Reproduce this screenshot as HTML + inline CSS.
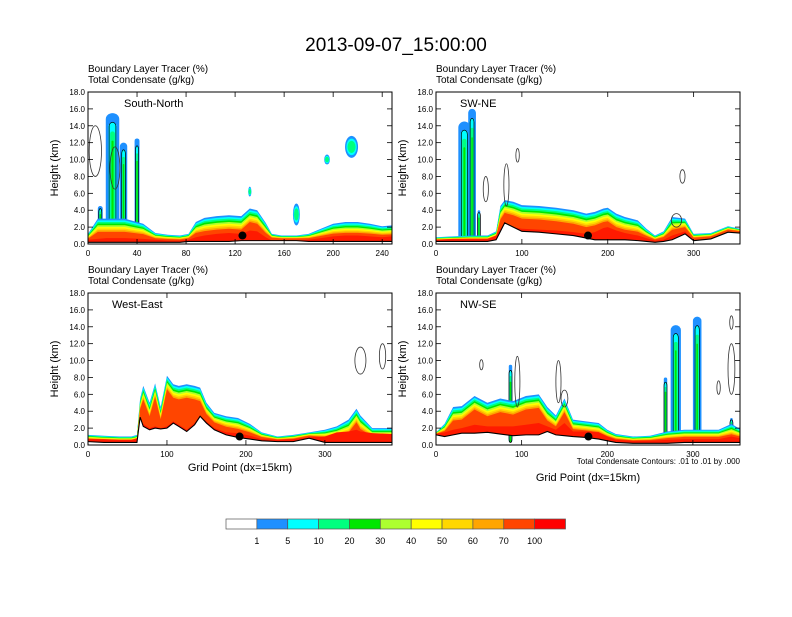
<!DOCTYPE html>
<html><head><meta charset="utf-8">
<style>
body{margin:0;background:#fff;}
svg text{font-family:"Liberation Sans",sans-serif;fill:#000;}
</style></head>
<body>
<svg id="chart" width="792" height="612" xmlns="http://www.w3.org/2000/svg">
<rect x="0" y="0" width="792" height="612" fill="#fff"/>
<text x="396" y="51" font-size="19" text-anchor="middle">2013-09-07_15:00:00</text>
</svg>
<script>
// ---------- data ----------
const levelColors = ["#1e90ff","#00ffff","#00ff7f","#00e600","#adff2f","#ffff00","#ffd700","#ffa500","#ff4500","#ff0000"];
const colorbarLabels = ["1","5","10","20","30","40","50","60","70","100"];
const yTicks = [0,2,4,6,8,10,12,14,16,18];

const p1X = [0,8,15,30,45,55,65,75,82,88,95,105,115,125,132,138,145,150,158,170,180,190,200,210,220,230,240,248];
const p1Blue = [1.2,3,3,3,2.4,1.3,1.1,1.0,1.2,2.6,3.1,3.3,3.4,3.3,4.2,4.0,2.5,1.2,1.0,1.0,1.2,1.8,2.4,2.6,2.6,2.4,2.1,2.2];
const p1Red = [0.5,0.6,0.7,0.7,0.6,0.5,0.4,0.4,0.5,0.8,1.0,1.2,1.3,1.2,1.6,1.5,0.8,0.4,0.4,0.4,0.5,0.7,0.9,1.0,1.0,0.9,0.8,0.9];
const p1Terrain = [0.2,0.2,0.2,0.2,0.2,0.2,0.2,0.2,0.3,0.3,0.3,0.3,0.3,0.4,0.4,0.4,0.4,0.4,0.4,0.4,0.3,0.3,0.3,0.3,0.3,0.3,0.3,0.3];
const p1TowerX = [20,29,40,10];
const p1TowerTop = [15.5,12,12.5,4.5];
const p1TowerW = [11,6,4,4];
const p1BlobX = [215,195,170,132];
const p1BlobY = [11.5,10,3.5,6.2];
const p1BlobR = [9,3,4,1];
const p1ContX = [6,22];
const p1ContY = [11,9];
const p1ContRx = [5,4];
const p1ContRy = [3,2.5];

const p2X = [0,20,40,60,70,75,80,90,100,120,140,160,175,185,195,200,210,220,235,245,255,265,275,290,300,320,340,354];
const p2Blue = [0.8,0.9,1.0,1.0,1.5,4.5,5.2,5.0,4.6,4.5,4.3,4.0,3.6,3.8,4.2,4.3,3.6,3.2,2.8,1.8,1.0,1.5,3.2,3.0,1.2,1.3,2.1,1.8];
const p2Red = [0.5,0.6,0.6,0.6,1.0,1.8,2.6,2.0,1.8,1.7,1.6,1.4,1.2,1.4,1.9,2.0,1.6,1.3,1.0,0.7,0.4,0.5,1.0,1.5,0.5,0.6,1.1,1.0];
const p2Terrain = [0.3,0.3,0.3,0.3,0.5,1.5,2.5,2.0,1.5,1.4,1.2,1.0,0.7,0.5,0.5,0.5,0.5,0.5,0.4,0.3,0.2,0.3,0.5,1.2,0.4,0.6,1.4,1.3];
const p2TowerX = [33,42,50];
const p2TowerTop = [14.5,16,4];
const p2TowerW = [14,9,3];
const p2BlobX = [];
const p2BlobY = [];
const p2BlobR = [];
const p2ContX = [95,58,82,287,280];
const p2ContY = [10.5,6.5,7,8,2.8];
const p2ContRx = [2,3,3,3,6];
const p2ContRy = [0.8,1.5,2.5,0.8,0.8];

const p3X = [0,20,40,55,62,66,70,78,85,92,100,108,115,125,135,142,150,160,175,190,205,220,240,260,280,300,315,330,340,345,360,385];
const p3Blue = [1.2,1.1,1.0,1.0,1.2,5.5,7.0,5.0,7.3,4.5,8.2,7.2,7.0,7.2,7.0,6.8,5.0,3.8,3.4,3.2,2.5,1.5,1.0,1.2,1.5,1.8,2.2,3.0,4.3,3.5,2.0,2.0];
const p3Red = [0.7,0.7,0.6,0.6,0.8,3.2,2.5,2.0,2.2,2.0,2.2,2.8,2.4,1.8,2.6,3.5,2.8,2.0,1.5,1.4,1.1,0.7,0.6,0.7,0.9,1.0,1.5,1.6,1.8,1.6,1.4,1.3];
const p3Terrain = [0.4,0.3,0.3,0.3,0.3,3.3,2.2,1.8,2.0,1.9,2.0,2.6,2.2,1.6,2.4,3.4,2.6,1.8,1.2,0.9,0.7,0.5,0.4,0.4,0.8,0.3,0.3,0.3,0.3,0.3,0.3,0.3];
const p3TowerX = [];
const p3TowerTop = [];
const p3TowerW = [];
const p3BlobX = [];
const p3BlobY = [];
const p3BlobR = [];
const p3ContX = [345,373];
const p3ContY = [10,10.5];
const p3ContRx = [7,4];
const p3ContRy = [1.6,1.5];

const p4X = [0,10,20,30,45,60,75,90,105,120,130,140,150,160,175,190,200,210,230,250,270,290,310,330,345,355];
const p4Blue = [1.5,2.5,4.5,4.6,5.8,5.0,5.5,5.2,5.8,6.0,4.5,3.5,5.5,3.0,2.8,2.6,1.8,1.3,1.0,1.1,1.6,1.8,1.8,1.8,2.5,1.9];
const p4Red = [1.3,1.5,1.8,2.0,2.4,2.2,2.2,2.2,2.4,2.6,2.2,1.8,2.6,1.6,1.6,1.5,1.0,0.6,0.5,0.5,0.6,0.7,0.7,0.7,1.0,0.8];
const p4Terrain = [1.2,1.0,1.2,1.4,1.4,1.5,1.3,1.1,1.2,1.2,1.6,1.2,1.1,1.0,0.9,0.7,0.5,0.3,0.2,0.2,0.2,0.3,0.3,0.3,0.3,0.3];
const p4TowerX = [268,280,305,87,345];
const p4TowerTop = [8,14.2,15.2,9.5,3.2];
const p4TowerW = [4,12,10,4,3];
const p4BlobX = [];
const p4BlobY = [];
const p4BlobR = [];
const p4ContX = [53,95,143,150,345,345,330];
const p4ContY = [9.5,7.5,7.5,5.5,14.5,9,6.8];
const p4ContRx = [2,3,3,4,2,4,2];
const p4ContRy = [0.6,3,2.5,1,0.8,3,0.8];

const panels = [
 {name:"South-North",x0:88,y0:92,w:304,h:152,xmax:248,xt:[0,40,80,120,160,200,240],X:p1X,B:p1Blue,R:p1Red,T:p1Terrain,tx:p1TowerX,tt:p1TowerTop,tw:p1TowerW,bx:p1BlobX,by:p1BlobY,br:p1BlobR,cx:p1ContX,cy:p1ContY,crx:p1ContRx,cry:p1ContRy,dot:126},
 {name:"SW-NE",x0:436,y0:92,w:304,h:152,xmax:354,xt:[0,100,200,300],X:p2X,B:p2Blue,R:p2Red,T:p2Terrain,tx:p2TowerX,tt:p2TowerTop,tw:p2TowerW,bx:p2BlobX,by:p2BlobY,br:p2BlobR,cx:p2ContX,cy:p2ContY,crx:p2ContRx,cry:p2ContRy,dot:177},
 {name:"West-East",x0:88,y0:293,w:304,h:152,xmax:385,xt:[0,100,200,300],X:p3X,B:p3Blue,R:p3Red,T:p3Terrain,tx:p3TowerX,tt:p3TowerTop,tw:p3TowerW,bx:p3BlobX,by:p3BlobY,br:p3BlobR,cx:p3ContX,cy:p3ContY,crx:p3ContRx,cry:p3ContRy,dot:192},
 {name:"NW-SE",x0:436,y0:293,w:304,h:152,xmax:355,xt:[0,100,200,300],X:p4X,B:p4Blue,R:p4Red,T:p4Terrain,tx:p4TowerX,tt:p4TowerTop,tw:p4TowerW,bx:p4BlobX,by:p4BlobY,br:p4BlobR,cx:p4ContX,cy:p4ContY,crx:p4ContRx,cry:p4ContRy,dot:178}
];

const NS="http://www.w3.org/2000/svg";
const svg=document.getElementById("chart");
function mk(tag,attrs,parent){const e=document.createElementNS(NS,tag);for(const k in attrs)e.setAttribute(k,attrs[k]);(parent||svg).appendChild(e);return e;}

panels.forEach((p,pi)=>{
  const sx=v=>p.x0+v/p.xmax*p.w;
  const sy=v=>p.y0+p.h-v/18*p.h;
  const slug=p.name.toLowerCase();
  const g=mk("g",{});
  
  
  const clipId="clip"+pi;
  const cp=mk("clipPath",{id:clipId},g);
  mk("rect",{x:p.x0,y:p.y0,width:p.w,height:p.h},cp);
  const plot=mk("g",{"clip-path":"url(#"+clipId+")"},g);
  // towers
  p.tx.forEach((x,i)=>{
    const tc=["#1e90ff","#00ffff","#00ff7f","#00e600"];
    tc.forEach((c,k)=>{
      const s=[1,0.6,0.35,0.15][k];
      const w=Math.max(1.5,(sx(p.tw[i]*s)-sx(0)));
      const top=p.tt[i]*(1-k*0.07);
      const r=mk("rect",{x:sx(x)-w/2,y:sy(top),width:w,height:sy(0.3)-sy(top),rx:w/2,ry:Math.min(w/2,6),fill:c},plot);
      
      
    });
    const cw=Math.max(3,(sx(p.tw[i]*0.5)-sx(0)));
    const cl=mk("rect",{x:sx(x)-cw/2,y:sy(p.tt[i]*0.93),width:cw,height:sy(0.3)-sy(p.tt[i]*0.93),rx:cw/2,ry:4,fill:"none",stroke:"#000","stroke-width":0.7},plot);
    
    
  });
  // blobs
  p.bx.forEach((x,i)=>{
    [["#1e90ff",1],["#00ffff",0.75],["#00ff7f",0.55]].forEach(([c,s])=>{
      const e=mk("ellipse",{cx:sx(x),cy:sy(p.by[i]),rx:(sx(p.br[i])-sx(0))*s*0.5+1,ry:(p.br[i]>3?11:5)*s,fill:c},plot);
      
      
    });
  });
  // BL bands
  const cols=["#1e90ff","#00ffff","#00ff7f","#00e600","#adff2f","#ffff00","#ffd700","#ffa500","#ff4500"];
  cols.forEach((c,li)=>{
    let pts=[];
    p.X.forEach((x,i)=>{const d=Math.min(0.2,(p.B[i]-p.T[i])*0.07);pts.push(sx(x)+","+sy(Math.max(p.T[i],p.B[i]-li*d)));});
    for(let i=p.X.length-1;i>=0;i--)pts.push(sx(p.X[i])+","+sy(p.T[i]));
    const a=mk("polygon",{points:pts.join(" "),fill:c},plot);
    
    
  });
  // red core
  let rp=[];
  p.X.forEach((x,i)=>rp.push(sx(x)+","+sy(Math.max(p.T[i],Math.min(p.R[i],p.B[i])))));
  for(let i=p.X.length-1;i>=0;i--)rp.push(sx(p.X[i])+","+sy(p.T[i]));
  const rc=mk("polygon",{points:rp.join(" "),fill:"#ff1a00"},plot);
  
  
  // contours
  p.cx.forEach((x,i)=>{
    const e=mk("ellipse",{cx:sx(x),cy:sy(p.cy[i]),rx:sx(p.crx[i])-sx(0),ry:sy(0)-sy(p.cry[i]),fill:"none",stroke:"#333","stroke-width":0.8},plot);
    
    
  });
  // terrain line
  let tl=p.X.map((x,i)=>sx(x)+","+sy(p.T[i])).join(" ");
  const tline=mk("polyline",{points:tl,fill:"none",stroke:"#000","stroke-width":1.1},plot);
  
  
  const dot=mk("circle",{cx:sx(p.dot),cy:sy(1.0),r:4,fill:"#000"},plot);
  
  
  const fr=mk("rect",{x:p.x0,y:p.y0,width:p.w,height:p.h,fill:"none",stroke:"#000","stroke-width":1},g);
  
  
  yTicks.forEach(v=>{
    const y=sy(v);
    mk("line",{x1:p.x0,x2:p.x0+5,y1:y,y2:y,stroke:"#000","stroke-width":0.8},g);
    mk("line",{x1:p.x0+p.w,x2:p.x0+p.w-5,y1:y,y2:y,stroke:"#000","stroke-width":0.8},g);
    const t=mk("text",{x:p.x0-3,y:y+3,"font-size":8,"text-anchor":"end"},g);
    t.textContent=v.toFixed(1);
    
    
  });
  p.xt.forEach(v=>{
    const x=sx(v);
    mk("line",{x1:x,x2:x,y1:p.y0+p.h,y2:p.y0+p.h-5,stroke:"#000","stroke-width":0.8},g);
    mk("line",{x1:x,x2:x,y1:p.y0,y2:p.y0+5,stroke:"#000","stroke-width":0.8},g);
    const t=mk("text",{x:x,y:p.y0+p.h+12,"font-size":8,"text-anchor":"middle"},g);
    t.textContent=v;
    
    
  });
  const yt=mk("text",{x:0,y:0,"font-size":11,"text-anchor":"middle",transform:"translate("+(p.x0-30)+","+(p.y0+p.h/2)+") rotate(-90)"},g);
  yt.textContent="Height (km)";
  
  
  const l1=mk("text",{x:p.x0,y:p.y0-20,"font-size":10},g);
  l1.textContent="Boundary Layer Tracer   (%)";
  
  
  const l2=mk("text",{x:p.x0,y:p.y0-9,"font-size":10},g);
  l2.textContent="Total Condensate   (g/kg)";
  
  
  const pn=mk("text",{x:p.x0+(pi===0?36:24),y:p.y0+15,"font-size":11},g);
  pn.textContent=p.name;
  
  
  if(pi>=2){
    const xt=mk("text",{x:p.x0+p.w/2,y:p.y0+p.h+(pi===3?36:26),"font-size":11,"text-anchor":"middle"},g);
    xt.textContent="Grid Point (dx=15km)";
    
    
  }
  if(pi===3){
    const ct=mk("text",{x:p.x0+p.w,y:p.y0+p.h+19,"font-size":8,"text-anchor":"end"},g);
    ct.textContent="Total Condensate Contours: .01 to .01 by .000";
    
    
  }
});

// colorbar
const cbX=226, cbY=519, cbW=339.5, cbH=10;
const cbColors=["#ffffff"].concat(levelColors);
const bw=cbW/cbColors.length;
const cb=mk("g",{});


cbColors.forEach((c,i)=>{
  const r=mk("rect",{x:cbX+i*bw,y:cbY,width:bw,height:cbH,fill:c,stroke:"#555","stroke-width":0.7},cb);
  
  
});
colorbarLabels.forEach((l,i)=>{
  const t=mk("text",{x:cbX+(i+1)*bw,y:cbY+25,"font-size":9,"text-anchor":"middle"},cb);
  t.textContent=l;
  
  
});
</script>
</body></html>
